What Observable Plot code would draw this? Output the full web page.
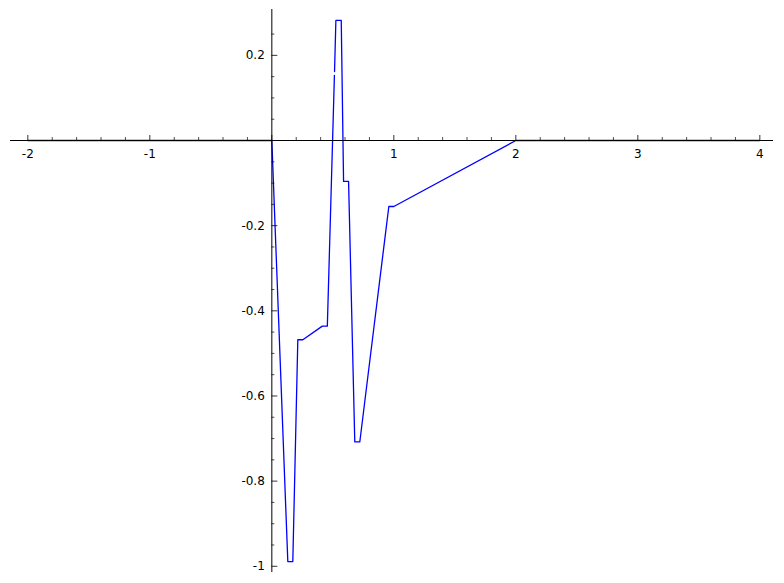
<!DOCTYPE html>
<html>
<head>
<meta charset="utf-8">
<script src="https://cdn.jsdelivr.net/npm/d3@7"></script>
<script src="https://cdn.jsdelivr.net/npm/@observablehq/plot@0.6"></script>
<style>
  html, body { margin: 0; padding: 0; background: #fff; }
</style>
</head>
<body>
<div id="chart"></div>
<script>
// Curve samples (NaN marks the small gap in the rising segment)
const xValues = [-2, 0, 0.131, 0.172, 0.213, 0.254, 0.414, 0.455, 0.513, NaN, 0.514, 0.525, 0.569, 0.588, 0.629, 0.680, 0.721, 0.959, 1.0, 2, 4];
const yValues = [0, 0, -0.989, -0.989, -0.468, -0.468, -0.436, -0.436, 0.153, NaN, 0.162, 0.282, 0.282, -0.096, -0.096, -0.708, -0.708, -0.155, -0.155, 0, 0];

// Axis ticks
const xMajorTicks = [-2, -1, 0, 1, 2, 3, 4];
const xTickLabels = ["-2", "-1", "", "1", "2", "3", "4"];
const xMinorTicks = [-1.8, -1.6, -1.4, -1.2, -0.8, -0.6, -0.4, -0.2, 0.2, 0.4, 0.6, 0.8, 1.2, 1.4, 1.6, 1.8, 2.2, 2.4, 2.6, 2.8, 3.2, 3.4, 3.6, 3.8];
const yMajorTicks = [-1, -0.8, -0.6, -0.4, -0.2, 0.2];
const yTickLabels = ["-1", "-0.8", "-0.6", "-0.4", "-0.2", "0.2"];
const yMinorTicks = [-0.95, -0.9, -0.85, -0.75, -0.7, -0.65, -0.55, -0.5, -0.45, -0.35, -0.3, -0.25, -0.15, -0.1, -0.05, 0.05, 0.1, 0.15, 0.25];

const points = xValues.map((x, i) => ({x, y: yValues[i]}));
const xLab = xMajorTicks.map((v, i) => ({v, t: xTickLabels[i]})).filter(d => d.t !== "");
const yLab = yMajorTicks.map((v, i) => ({v, t: yTickLabels[i]}));

const chart = Plot.plot({
  width: 784,
  height: 583,
  marginLeft: 10,
  marginRight: 11,
  marginTop: 9,
  marginBottom: 11,
  style: {background: "#fff", fontFamily: "DejaVu Sans", fontSize: "12px", color: "#000"},
  x: {domain: [-2.142, 4.112], axis: null},
  y: {domain: [-1.0146, 0.3077], axis: null},
  marks: [
    Plot.line(points, {x: "x", y: "y", stroke: "#0000ff", strokeWidth: 1.3}),
    Plot.ruleY([0], {stroke: "#000", strokeWidth: 1}),
    Plot.ruleX([0], {stroke: "#000", strokeWidth: 1}),
    // x ticks (pointing up from the x axis)
    Plot.ruleX(xMajorTicks, {x: d => d, y1: 0, y2: 0, insetTop: -5, stroke: "#000", strokeWidth: 0.8}),
    Plot.ruleX(xMinorTicks, {x: d => d, y1: 0, y2: 0, insetTop: -3, stroke: "#000", strokeWidth: 0.7}),
    // y ticks (pointing right from the y axis)
    Plot.ruleY(yMajorTicks, {y: d => d, x1: 0, x2: 0, insetRight: -6, stroke: "#000", strokeWidth: 0.8}),
    Plot.ruleY(yMinorTicks, {y: d => d, x1: 0, x2: 0, insetRight: -3, stroke: "#000", strokeWidth: 0.7}),
    Plot.text(xLab, {x: "v", y: 0, text: "t", dy: 13.5, fill: "#000"}),
    Plot.text(yLab, {x: 0, y: "v", text: "t", dx: -7, textAnchor: "end", fill: "#000"})
  ]
});
document.getElementById("chart").appendChild(chart);
</script>
</body>
</html>
